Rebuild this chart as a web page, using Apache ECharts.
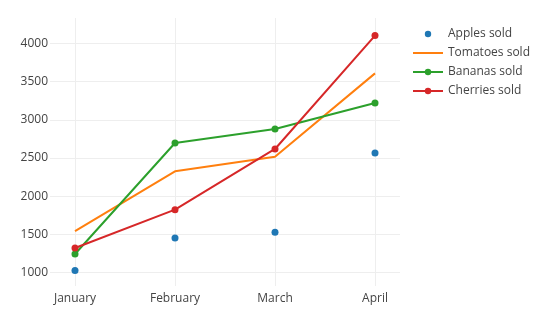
<!DOCTYPE html>
<html>
<head>
<meta charset="utf-8">
<script src="https://cdn.jsdelivr.net/npm/echarts@6/dist/echarts.min.js"></script>
<style>html,body{margin:0;padding:0;background:#fff}#c{width:537px;height:318px}</style>
</head>
<body>
<div id="c"></div>
<script>
const months = ['January', 'February', 'March', 'April'];
const apples = [1030, 1455, 1528, 2565];
const tomatoes = [1545, 2326, 2517, 3607];
const bananas = [1245, 2696, 2879, 3219];
const cherries = [1323, 1824, 2618, 4101];
const yTicks = [1000, 1500, 2000, 2500, 3000, 3500, 4000];
const xTicks = [0, 1, 2, 3];

const font = '"Open Sans", "Noto Sans", sans-serif';
function pts(arr) { return arr.map((v, i) => [i, v]); }

const chart = echarts.init(document.getElementById('c'), null, {renderer: 'canvas'});
chart.setOption({
  animation: false,
  textStyle: {fontFamily: font},
  grid: {left: 50, right: 137, top: 18, bottom: 32, containLabel: false},
  xAxis: {
    type: 'value', min: -0.25, max: 3.25,
    axisLine: {show: false},
    axisTick: {show: false, customValues: xTicks},
    axisLabel: {customValues: xTicks, formatter: v => months[v], color: '#444', fontSize: 12, fontFamily: font, margin: 7},
    splitLine: {show: true, lineStyle: {color: '#eee', width: 1}}
  },
  yAxis: {
    type: 'value', min: 826, max: 4331,
    axisLine: {show: false},
    axisTick: {show: false, customValues: yTicks},
    axisLabel: {customValues: yTicks, formatter: v => String(v), color: '#444', fontSize: 12, fontFamily: font, margin: 2},
    splitLine: {show: true, lineStyle: {color: '#eee', width: 1}}
  },
  legend: {
    orient: 'vertical', left: 412, top: 28, padding: 0,
    itemWidth: 30, itemHeight: 8, itemGap: 7,
    textStyle: {color: '#444', fontSize: 12, fontFamily: font, lineHeight: 12},
    data: [
      {name: 'Apples sold'},
      {name: 'Tomatoes sold', icon: 'path://M0,0H30V2H0Z'},
      {name: 'Bananas sold'},
      {name: 'Cherries sold'}
    ]
  },
  series: [
    {name: 'Apples sold', type: 'line', data: pts(apples), color: '#1f77b4',
     symbol: 'circle', symbolSize: 7, lineStyle: {width: 0, opacity: 0}, itemStyle: {color: '#1f77b4'}, clip: false},
    {name: 'Tomatoes sold', type: 'line', data: pts(tomatoes), color: '#ff7f0e',
     symbol: 'none', lineStyle: {width: 2, color: '#ff7f0e'}, itemStyle: {color: '#ff7f0e'}, clip: false},
    {name: 'Bananas sold', type: 'line', data: pts(bananas), color: '#2ca02c',
     symbol: 'circle', symbolSize: 7, lineStyle: {width: 2, color: '#2ca02c'}, itemStyle: {color: '#2ca02c'}, clip: false},
    {name: 'Cherries sold', type: 'line', data: pts(cherries), color: '#d62728',
     symbol: 'circle', symbolSize: 7, lineStyle: {width: 2, color: '#d62728'}, itemStyle: {color: '#d62728'}, clip: false}
  ]
});
</script>
</body>
</html>
